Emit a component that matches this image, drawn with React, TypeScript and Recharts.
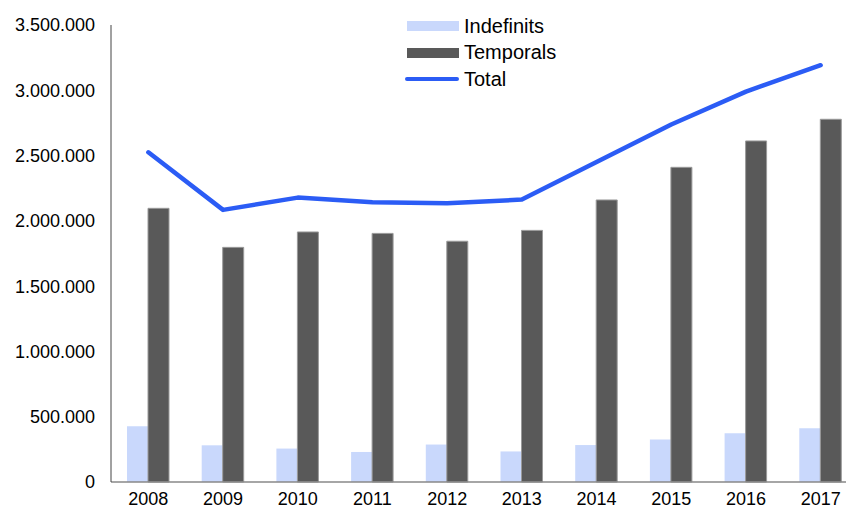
import { ComposedChart, Bar, Line, XAxis, YAxis, Legend } from "recharts";

const years = ["2008", "2009", "2010", "2011", "2012", "2013", "2014", "2015", "2016", "2017"];
const indefinits = [427000, 281000, 256000, 230000, 287000, 234000, 283000, 325000, 373000, 411000];
const temporals = [2096000, 1797000, 1915000, 1904000, 1844000, 1927000, 2160000, 2410000, 2612000, 2778000];
const total = [2525000, 2084000, 2178000, 2142000, 2134000, 2163000, 2450000, 2738000, 2990000, 3192000];
const yTicks = [0, 500000, 1000000, 1500000, 2000000, 2500000, 3000000, 3500000];

const data = years.map((y, i) => ({
  year: y,
  Indefinits: indefinits[i],
  Temporals: temporals[i],
  Total: total[i],
}));

const fmt = (v: number) => v.toLocaleString("de-DE");

const legendItems = [
  { name: "Indefinits", color: "#c9d8fc", type: "rect" },
  { name: "Temporals", color: "#595959", type: "rect" },
  { name: "Total", color: "#2b5cf5", type: "line" },
];

const renderLegend = () => (
  <div style={{ fontFamily: "Liberation Sans, Arial, sans-serif", fontSize: 20, color: "#000" }}>
    {legendItems.map((it) => (
      <div key={it.name} style={{ display: "flex", alignItems: "center", height: 26.5 }}>
        <svg width={56} height={14} style={{ marginRight: 4 }}>
          {it.type === "rect" ? (
            <rect x={3} y={2} width={52} height={10} fill={it.color} />
          ) : (
            <line x1={3} y1={7} x2={53} y2={7} stroke={it.color} strokeWidth={4} strokeLinecap="round" />
          )}
        </svg>
        <span>{it.name}</span>
      </div>
    ))}
  </div>
);

const App = () => {
  return (
    <div style={{ position: "absolute", left: 0, top: 0, width: 846, height: 511, overflow: "hidden", background: "#fff" }}>
      <ComposedChart
        width={880}
        height={511}
        data={data}
        margin={{ top: 25, right: 22, bottom: 0, left: 0 }}
        barGap={0}
        barSize={21}
      >
        <XAxis
          dataKey="year"
          tickLine={false}
          axisLine={{ stroke: "#888888", strokeWidth: 1.5 }}
          tick={{ fontSize: 18, fill: "#000", fontFamily: "Liberation Sans, Arial, sans-serif" }}
          tickMargin={4}
          height={29}
        />
        <YAxis
          domain={[0, 3500000]}
          ticks={yTicks}
          tickFormatter={fmt}
          tickLine={false}
          axisLine={{ stroke: "#444444", strokeWidth: 1 }}
          tick={{ fontSize: 18, fill: "#000", fontFamily: "Liberation Sans, Arial, sans-serif" }}
          tickMargin={10}
          width={111}
          interval={0}
        />
        <Legend
          layout="vertical"
          verticalAlign="middle"
          align="center"
          content={renderLegend}
          wrapperStyle={{ top: 13, left: 404, width: 200 }}
        />
        <Bar dataKey="Indefinits" fill="#c9d8fc" isAnimationActive={false} />
        <Bar dataKey="Temporals" fill="#595959" stroke="#9a9a9a" strokeWidth={1} isAnimationActive={false} />
        <Line
          dataKey="Total"
          type="linear"
          stroke="#2b5cf5"
          strokeWidth={4.5}
          strokeLinecap="round"
          strokeLinejoin="round"
          dot={false}
          activeDot={false}
          isAnimationActive={false}
        />
      </ComposedChart>
    </div>
  );
};

export default App;
